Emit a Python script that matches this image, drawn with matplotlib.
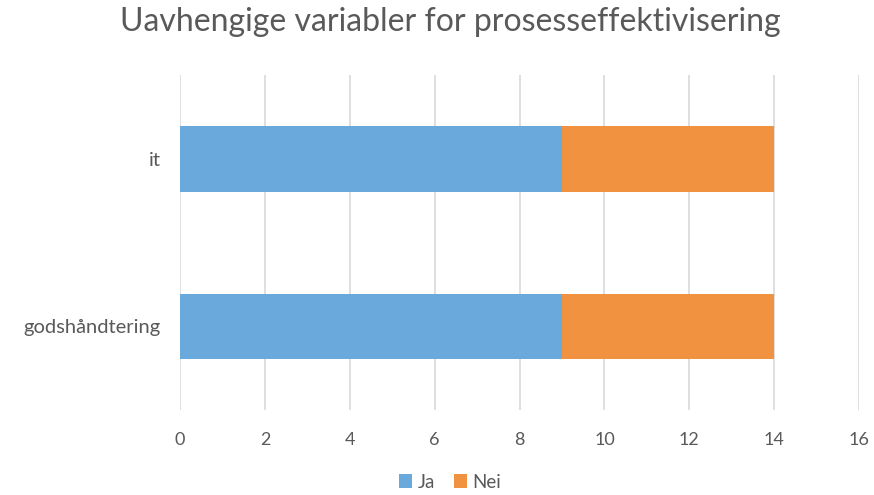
import matplotlib.pyplot as plt

categories = ['godshåndtering', 'it']
ja = [9, 9]
nei = [5, 5]
xticks = [0, 2, 4, 6, 8, 10, 12, 14, 16]

plt.rcParams['font.family'] = ['Lato', 'DejaVu Sans']

fig = plt.figure(figsize=(8.74, 4.95), dpi=100)
ax = fig.add_axes([0.206, 0.172, 0.777, 0.676])

pos = range(len(categories))
ax.barh(pos, ja, height=0.39, color='#6AA9DC', label='Ja', zorder=3)
ax.barh(pos, nei, left=ja, height=0.39, color='#F0923F', label='Nei', zorder=3)

ax.set_xlim(0, 16)
ax.set_ylim(-0.5, 1.5)
ax.set_xticks(xticks)
ax.set_yticks(list(pos))
ax.set_yticklabels(categories)
ax.grid(axis='x', color='#D9D9D9', linewidth=1.2, zorder=0)
for s in ax.spines.values():
    s.set_visible(False)
ax.tick_params(axis='both', length=0, colors='#595959')
ax.tick_params(axis='x', pad=16, labelsize=13)
ax.tick_params(axis='y', pad=14, labelsize=14.5)

fig.suptitle('Uavhengige variabler for prosesseffektivisering', x=0.515, y=0.985,
             fontsize=23, color='#595959')
fig.legend(loc='lower center', bbox_to_anchor=(0.515, -0.025), ncol=2, frameon=False,
           fontsize=13.5, handlelength=0.7, handleheight=0.7, handletextpad=0.3,
           columnspacing=1.0, labelcolor='#595959')

fig.savefig('out.png', dpi=100)
